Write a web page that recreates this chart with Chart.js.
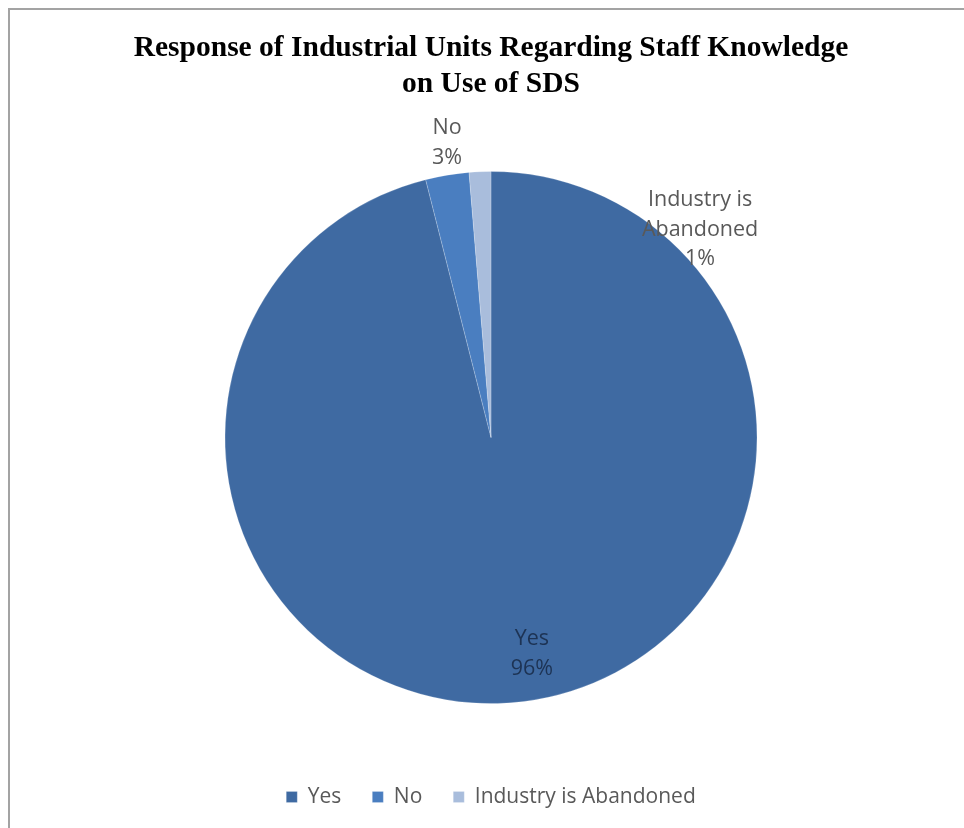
<!DOCTYPE html>
<html>
<head>
<meta charset="utf-8">
<script src="https://cdn.jsdelivr.net/npm/chart.js@4.4.1/dist/chart.umd.min.js"></script>
<style>
  html, body { margin: 0; padding: 0; background: #fff; }
  #wrap { width: 964px; height: 828px; }
</style>
</head>
<body>
<div id="wrap"><canvas id="pieChart" width="964" height="828"></canvas></div>
<script>
const categories = ["Yes", "No", "Industry is Abandoned"];
const responses = [73, 2, 1];
const sliceColors = ["#3f6aa2", "#4a7ec0", "#a9bddc"];
const labelLines = [["Yes"], ["No"], ["Industry is", "Abandoned"]];
// label placement: shift from slice middle (deg) and distance as share of radius
const labelShift = [-3.6, 1, 47.5];
const labelDist = [0.827, 1.12, 1.109];
const labelColors = ["#1d3354", "#595959", "#595959"];

const total = responses.reduce((a, b) => a + b, 0);

// thin grey frame on the left and top edge
const framePlugin = {
  id: "frame",
  beforeDraw(chart) {
    const ctx = chart.ctx;
    ctx.save();
    ctx.fillStyle = "#fff";
    ctx.fillRect(0, 0, chart.width, chart.height);
    ctx.strokeStyle = "#a3a3a3";
    ctx.lineWidth = 2;
    ctx.beginPath();
    ctx.moveTo(9, chart.height);
    ctx.lineTo(9, 9);
    ctx.lineTo(chart.width, 9);
    ctx.stroke();
    ctx.restore();
  }
};

const sliceLabels = {
  id: "sliceLabels",
  afterDatasetsDraw(chart) {
    const ctx = chart.ctx;
    const arcs = chart.getDatasetMeta(0).data;
    ctx.save();
    ctx.font = "21.5px 'Open Sans'";
    ctx.textAlign = "center";
    ctx.textBaseline = "middle";
    arcs.forEach((arc, i) => {
      const p = arc.getProps(["x", "y", "startAngle", "endAngle", "outerRadius"], true);
      const a = (p.startAngle + p.endAngle) / 2 + labelShift[i] * Math.PI / 180;
      const r = p.outerRadius * labelDist[i];
      const cx = p.x + Math.cos(a) * r;
      const cy = p.y + Math.sin(a) * r;
      const pct = Math.round(responses[i] / total * 100) + "%";
      const lines = labelLines[i].concat([pct]);
      const lh = 29.5;
      ctx.fillStyle = labelColors[i];
      lines.forEach((t, k) => {
        ctx.fillText(t, cx, cy + (k - (lines.length - 1) / 2) * lh);
      });
    });
    ctx.restore();
  }
};

new Chart(document.getElementById("pieChart"), {
  type: "pie",
  data: {
    labels: categories,
    datasets: [{
      data: responses,
      backgroundColor: sliceColors,
      borderWidth: 0.5,
      borderColor: "rgba(255,255,255,0.4)",
      radius: 266
    }]
  },
  options: {
    responsive: false,
    animation: false,
    layout: { padding: { left: 18, right: 0, top: 0, bottom: 10.5 } },
    plugins: {
      tooltip: { enabled: false },
      title: {
        display: true,
        text: ["Response of Industrial Units Regarding Staff Knowledge", "on Use of SDS"],
        color: "#000",
        font: { family: "'Liberation Serif', 'Times New Roman', serif", size: 29.5, weight: "bold", lineHeight: 1.2 },
        padding: { top: 31, bottom: 17.7 }
      },
      legend: {
        position: "bottom",
        labels: {
          color: "#595959",
          font: { family: "'Open Sans'", size: 21 },
          boxWidth: 11,
          boxHeight: 11,
          padding: 31
        }
      }
    }
  },
  plugins: [framePlugin, sliceLabels]
});
</script>
</body>
</html>
